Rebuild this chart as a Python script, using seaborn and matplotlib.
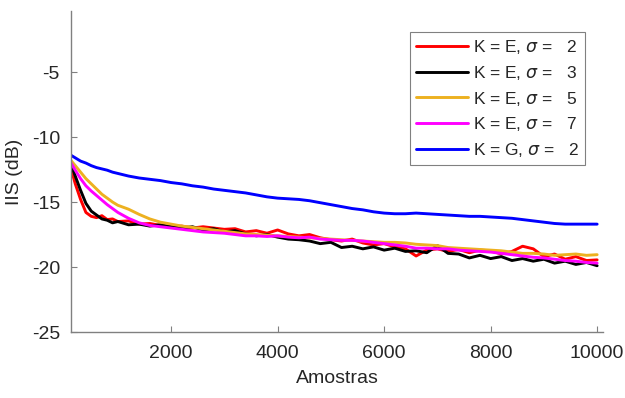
import numpy as np
import pandas as pd
import seaborn as sns
import matplotlib.pyplot as plt

amostras = [120, 200, 300, 400, 500, 600, 700, 800, 900, 1000,
            1200, 1400, 1600, 1800, 2000, 2200, 2400, 2600, 2800, 3000,
            3200, 3400, 3600, 3800, 4000, 4200, 4400, 4600, 4800, 5000,
            5200, 5400, 5600, 5800, 6000, 6200, 6400, 6600, 6800, 7000,
            7200, 7400, 7600, 7800, 8000, 8200, 8400, 8600, 8800, 9000,
            9200, 9400, 9600, 9800, 10000]

iis_e2 = [-12.4, -13.6, -14.8, -15.8, -16.1, -16.2, -16.05, -16.35, -16.3, -16.5,
          -16.45, -16.7, -16.65, -16.8, -16.9, -16.85, -17.0, -16.9, -17.0, -17.1,
          -17.05, -17.3, -17.2, -17.4, -17.15, -17.45, -17.6, -17.5, -17.75, -17.9,
          -18.0, -17.85, -18.15, -18.3, -18.2, -18.45, -18.6, -19.15, -18.7, -18.6,
          -18.8, -18.65, -18.9, -18.7, -18.75, -19.0, -18.8, -18.4, -18.6, -19.2,
          -19.0, -19.4, -19.2, -19.5, -19.45]

iis_e3 = [-12.1, -13.0, -14.1, -15.1, -15.7, -16.0, -16.3, -16.4, -16.6, -16.5,
          -16.75, -16.7, -16.85, -16.75, -16.9, -17.0, -16.9, -17.15, -17.05, -17.3,
          -17.2, -17.45, -17.6, -17.5, -17.7, -17.85, -17.9, -18.0, -18.2, -18.1,
          -18.5, -18.4, -18.6, -18.45, -18.7, -18.55, -18.8, -18.75, -18.9, -18.35,
          -18.95, -19.0, -19.3, -19.1, -19.35, -19.2, -19.5, -19.35, -19.55, -19.4,
          -19.7, -19.55, -19.8, -19.65, -19.9]

iis_e5 = [-11.8, -12.2, -12.7, -13.2, -13.6, -14.0, -14.4, -14.7, -15.0, -15.25,
          -15.55, -15.95, -16.3, -16.55, -16.7, -16.85, -16.95, -17.05, -17.15, -17.25,
          -17.35, -17.45, -17.5, -17.55, -17.6, -17.65, -17.7, -17.75, -17.8, -17.85,
          -17.9, -17.95, -18.0, -18.05, -18.1, -18.1, -18.15, -18.25, -18.3, -18.35,
          -18.5, -18.55, -18.6, -18.65, -18.7, -18.75, -18.85, -18.95, -18.95, -19.0,
          -19.1, -19.05, -19.0, -19.1, -19.05]

iis_e7 = [-12.0, -12.55, -13.2, -13.75, -14.15, -14.5, -14.85, -15.2, -15.5, -15.8,
          -16.25, -16.6, -16.8, -16.9, -17.0, -17.1, -17.2, -17.3, -17.35, -17.4,
          -17.5, -17.6, -17.6, -17.65, -17.6, -17.7, -17.75, -17.7, -17.85, -17.9,
          -17.95, -17.95, -18.0, -18.1, -18.2, -18.3, -18.4, -18.55, -18.55, -18.6,
          -18.6, -18.7, -18.75, -18.8, -18.85, -18.95, -19.05, -19.15, -19.25, -19.3,
          -19.4, -19.5, -19.55, -19.65, -19.7]

iis_g2 = [-11.4, -11.6, -11.85, -12.0, -12.2, -12.35, -12.45, -12.55, -12.7, -12.8,
          -13.0, -13.15, -13.25, -13.35, -13.5, -13.6, -13.75, -13.85, -14.0, -14.1,
          -14.2, -14.3, -14.45, -14.6, -14.7, -14.75, -14.8, -14.9, -15.05, -15.2,
          -15.35, -15.5, -15.6, -15.75, -15.85, -15.9, -15.9, -15.85, -15.9, -15.95,
          -16.0, -16.05, -16.1, -16.1, -16.15, -16.2, -16.25, -16.35, -16.45, -16.55,
          -16.65, -16.7, -16.7, -16.7, -16.7]

labels = ["K = E, $\\sigma$ =   2", "K = E, $\\sigma$ =   3", "K = E, $\\sigma$ =   5",
          "K = E, $\\sigma$ =   7", "K = G, $\\sigma$ =   2"]
colors = ["#ff0000", "#000000", "#edb120", "#ff00ff", "#0000ff"]
series = [iis_e2, iis_e3, iis_e5, iis_e7, iis_g2]

df = pd.concat([pd.DataFrame({"Amostras": amostras, "IIS": vals, "curva": lab})
                for lab, vals in zip(labels, series)], ignore_index=True)

sns.set_theme(style="white")
plt.rcParams["font.family"] = ["Liberation Sans", "DejaVu Sans"]
plt.rcParams["axes.unicode_minus"] = False

fig = plt.figure(figsize=(6.25, 3.98), dpi=100)
ax = fig.add_axes([0.1136, 0.1658, 0.8512, 0.8066])

sns.lineplot(data=df, x="Amostras", y="IIS", hue="curva", palette=colors,
             hue_order=labels, estimator=None, sort=False, linewidth=2.1, ax=ax)

ax.set_xlim(120, 10110)
ax.set_ylim(-25, -0.3)
ax.set_xticks([2000, 4000, 6000, 8000, 10000])
ax.set_yticks([-25, -20, -15, -10, -5])
ax.set_xlabel("Amostras", fontsize=14, color="#262626", labelpad=6)
ax.set_ylabel("IIS (dB)", fontsize=14, color="#262626", labelpad=6)

for side in ["top", "right"]:
    ax.spines[side].set_visible(False)
for side in ["left", "bottom"]:
    ax.spines[side].set_color("#808080")
    ax.spines[side].set_linewidth(1.0)
ax.tick_params(bottom=True, left=True, direction="in", length=4, width=0.8,
               color="#808080", labelsize=14, labelcolor="#262626")
ax.tick_params(axis="x", pad=9)
ax.tick_params(axis="y", pad=8)

handles, _ = ax.get_legend_handles_labels()
leg = ax.legend(handles, labels, loc="upper right", bbox_to_anchor=(0.966, 0.935),
                borderaxespad=0, fontsize=12.5, handlelength=3.0, handletextpad=0.3,
                labelspacing=0.45, fancybox=False, framealpha=1, edgecolor="#808080",
                borderpad=0.35)
leg.get_frame().set_linewidth(0.8)

plt.savefig("out.png", dpi=100)
